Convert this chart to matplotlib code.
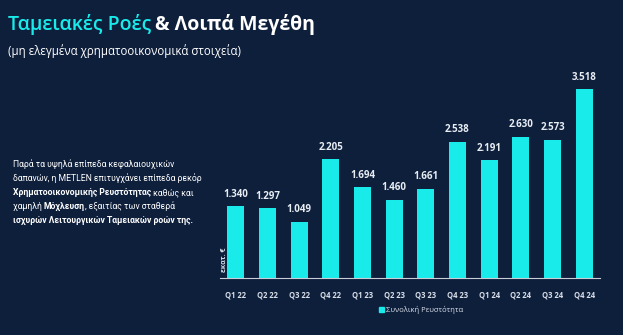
import matplotlib.pyplot as plt
from matplotlib.patches import Patch

# data
quarters = ['Q1 22', 'Q2 22', 'Q3 22', 'Q4 22', 'Q1 23', 'Q2 23', 'Q3 23', 'Q4 23',
            'Q1 24', 'Q2 24', 'Q3 24', 'Q4 24']
liquidity = [1.340, 1.297, 1.049, 2.205, 1.694, 1.460, 1.661, 2.538, 2.191, 2.630, 2.573, 3.518]
value_labels = ['1.340', '1.297', '1.049', '2.205', '1.694', '1.460', '1.661', '2.538',
                '2.191', '2.630', '2.573', '3.518']

BG = '#0e1f3c'
CYAN = '#19eaea'
FONT = ['Open Sans', 'DejaVu Sans']
BODY = ['Roboto', 'DejaVu Sans']

fig = plt.figure(figsize=(6.23, 3.35), dpi=100, facecolor=BG)
ax = fig.add_axes([220 / 623, 57 / 335, 380 / 623, 215 / 335], facecolor=BG)

x = range(len(quarters))
bars = ax.bar(x, liquidity, width=0.54, color=CYAN)
for b, lab in zip(bars, value_labels):
    ax.annotate(lab, (b.get_x() + b.get_width() / 2, b.get_height()),
                xytext=(0, 4.5), textcoords='offset points', ha='center', va='bottom',
                color='#e8edf3', fontsize=7, fontweight='bold', family=FONT)

ax.set_xlim(-0.5, len(quarters) - 0.5)
ax.set_ylim(0, 4.0)
ax.set_xticks(list(x))
ax.set_xticklabels(quarters, color='#d8dee8', fontsize=5.5, family=FONT, fontweight='bold')
ax.tick_params(axis='x', length=0, pad=9)
ax.set_yticks([])
for s in ['top', 'right', 'left']:
    ax.spines[s].set_visible(False)
ax.spines['bottom'].set_color('#c8ced8')
ax.spines['bottom'].set_linewidth(0.8)

ax.text(-0.36, 0.12, 'εκατ. €', rotation=90, color='#d8dee8', fontsize=5,
        family=FONT, fontweight='bold', ha='center', va='bottom')

leg = ax.legend(handles=[Patch(color=CYAN, label='Συνολική Ρευστότητα')],
                loc='upper center', bbox_to_anchor=(0.53, -0.1), frameon=False,
                fontsize=5.5, handlelength=0.6, handleheight=0.6, handletextpad=0.3)
for t in leg.get_texts():
    t.set_color('#d8dee8')
    t.set_family(FONT)

# title
t1 = fig.text(8 / 623, 1 - 30 / 335, 'Ταμειακές Ροές', color=CYAN, fontsize=14,
              family=FONT, fontweight='semibold', va='baseline')
fig.canvas.draw()
r = fig.canvas.get_renderer()
bb = t1.get_window_extent(r)
fig.text(bb.x1 / 623 + 4 / 623, 1 - 30 / 335, '& Λοιπά Μεγέθη', color='white',
         fontsize=14, family=FONT, fontweight='bold', va='baseline')
fig.text(8 / 623, 1 - 55 / 335, '(μη ελεγμένα χρηματοοικονομικά στοιχεία)',
         color='white', fontsize=8.3, family=FONT, va='baseline')

# paragraph with mixed weights
lines = [
    [('Παρά τα υψηλά επίπεδα κεφαλαιουχικών', 'normal')],
    [('δαπανών, η METLEN επιτυγχάνει επίπεδα ρεκόρ', 'normal')],
    [('Χρηματοοικονομικής Ρευστότητας', 'bold'), (' καθώς και', 'normal')],
    [('χαμηλή ', 'normal'), ('Μόχλευση', 'bold'), (', εξαιτίας των σταθερά', 'normal')],
    [('ισχυρών Λειτουργικών Ταμειακών ροών της.', 'bold')],
]
y0 = 167
for i, segs in enumerate(lines):
    xpos = 13
    for txt, w in segs:
        t = fig.text(xpos / 623, 1 - (y0 + i * 14) / 335, txt, color='white',
                     fontsize=6.2, fontweight=w, family=BODY, va='baseline')
        fig.canvas.draw()
        xpos = t.get_window_extent(fig.canvas.get_renderer()).x1

fig.savefig('out.png', dpi=100, facecolor=BG)
